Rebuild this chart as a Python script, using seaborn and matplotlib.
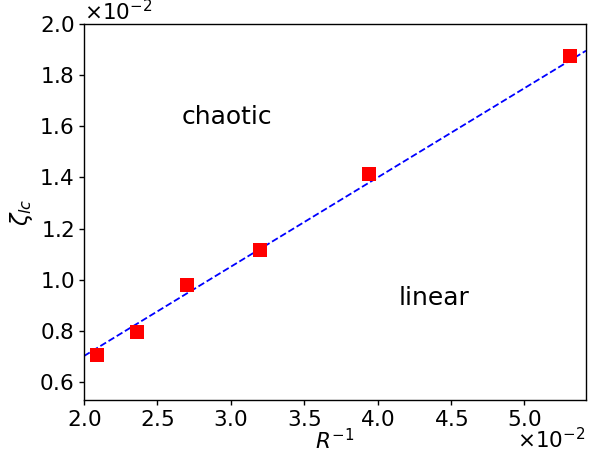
import numpy as np
import pandas as pd
import matplotlib
matplotlib.use("Agg")
import matplotlib.pyplot as plt
import seaborn as sns

# data (actual units; axes show x10^-2)
inv_R = [0.0209, 0.0236, 0.0270, 0.0320, 0.0394, 0.0531]
zeta_lc = [0.00705, 0.00794, 0.00980, 0.01117, 0.01413, 0.01876]
fit_slope = 0.349
fit_intercept = 0.00004

sns.set_style("ticks")
plt.rcParams['font.family'] = ['DejaVu Sans']
plt.rcParams.update({
    'xtick.direction': 'out', 'ytick.direction': 'out',
    'text.color': 'black', 'axes.labelcolor': 'black',
    'xtick.color': 'black', 'ytick.color': 'black',
    'axes.edgecolor': 'black',
})

fig = plt.figure(figsize=(6.01, 4.54), dpi=100)
ax = fig.add_axes([84/601, 1-400/454, (586-84)/601, (400-24)/454])

xlim = (0.0200, 0.0542)
ylim = (0.0053, 0.0200)
line_df = pd.DataFrame({"x": list(xlim),
                        "y": [fit_slope * v + fit_intercept for v in xlim]})
sns.lineplot(data=line_df, x="x", y="y", ax=ax, color="blue",
             linestyle="--", linewidth=1.3)
df = pd.DataFrame({"x": inv_R, "y": zeta_lc})
sns.scatterplot(data=df, x="x", y="y", ax=ax, marker="s", color="red",
                s=110, linewidth=0, zorder=3)

ax.set_xlim(*xlim)
ax.set_ylim(*ylim)
ax.set_xticks([0.020, 0.025, 0.030, 0.035, 0.040, 0.045, 0.050])
ax.set_yticks([0.006, 0.008, 0.010, 0.012, 0.014, 0.016, 0.018, 0.020])
ax.ticklabel_format(style='sci', scilimits=(0, 0), useMathText=True, axis='both')
ax.tick_params(labelsize=15.5, length=3.5, width=1, color='black', pad=3.5)
ax.xaxis.get_offset_text().set_visible(False)
ax.yaxis.get_offset_text().set_fontsize(15.5)
for sp in ax.spines.values():
    sp.set_color('black')
    sp.set_linewidth(1)

fig.text(585/601, 1-452/454, r"$\times10^{-2}$", fontsize=15.5,
         ha="right", va="bottom")

ax.set_xlabel(r"$R^{-1}$", fontsize=15.5, labelpad=-1)
ax.set_ylabel(r"$\zeta_{lc}$", fontsize=16.5, labelpad=3)

ax.text(0.02975, 0.01636, "chaotic", fontsize=18, ha="center", va="center")
ax.text(0.04386, 0.00928, "linear", fontsize=18, ha="center", va="center")

fig.savefig("out.png", dpi=100)
